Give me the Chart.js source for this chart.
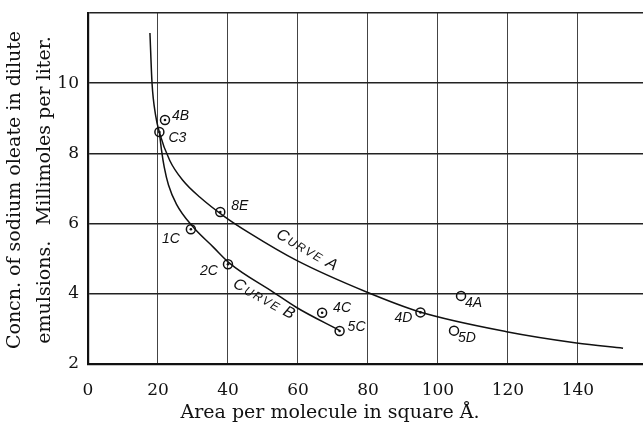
<!DOCTYPE html>
<html>
<head>
<meta charset="utf-8">
<script src="https://cdn.jsdelivr.net/npm/chart.js@4/dist/chart.umd.min.js"></script>
<style>
  html, body { margin: 0; padding: 0; background: #fff; }
  #wrap { width: 643px; height: 424px; }
</style>
</head>
<body>
<div id="wrap"><canvas id="chart" width="643" height="424"></canvas></div>
<script>
"use strict";

// ── Data ───────────────────────────────────────────────────────────────────
const xTickStep = 20;
const yTickStep = 2;

const pointNames  = ["4B", "C3", "8E", "1C", "2C", "4C", "5C", "4D", "4A", "5D"];
const pointX      = [22.0, 20.4, 37.8, 29.4, 40.0, 66.9, 71.9, 95.0, 106.6, 104.6];
const pointY      = [8.95, 8.61, 6.33, 5.84, 4.84, 3.46, 2.94, 3.47, 3.94, 2.95];
const pointDotted = [true, true, true, true, true, true, true, true, false, false];

const curveAX = [17.7, 18.3, 19.3, 20.4, 23.4, 27.2, 32.0, 39.0, 46.3, 59.6, 79.6, 94.9, 119.6, 139.6, 152.9];
const curveAY = [11.43, 10.0, 9.1, 8.6, 7.79, 7.22, 6.75, 6.2, 5.72, 4.95, 4.05, 3.48, 2.92, 2.60, 2.45];

const curveBX = [20.4, 21.0, 21.8, 23.0, 25.3, 29.8, 35.8, 40.6, 52.9, 59.6, 71.8];
const curveBY = [8.6, 8.1, 7.6, 7.1, 6.55, 5.93, 5.33, 4.86, 4.05, 3.61, 2.96];

const curveLabels = ["CURVE A", "CURVE B"];
const curveLabelX = [62.8, 50.5];
const curveLabelY = [5.25, 3.85];

const xTitle = "Area per molecule in square \u00C5.";
const yTitle = ["Concn. of sodium oleate in dilute", "emulsions.\u2002 Millimoles per liter."];

// ── Styling ────────────────────────────────────────────────────────────────
const INK = "#111";
const SERIF = "'DejaVu Serif', serif";
const HAND = "'Liberation Sans', sans-serif";
// [dx, dy, align] of each point label, pixels from the marker
const LABEL_OFFSETS = [
  [7, -4, "left"], [9, 6, "left"], [11, -6, "left"], [-11, 10, "right"], [-10, 7, "right"],
  [11, -5, "left"], [8, -4, "left"], [-8, 6, "right"], [4, 7, "left"], [4, 7, "left"],
];
const CURVE_ANGLE = [30, 29];

const zip = (xs, ys) => xs.map((x, i) => ({ x, y: ys[i] }));

function drawSmallCaps(ctx, text, cx, cy, deg) {
  const parts = text.split("").map((ch, i) => ({
    ch, font: `italic ${i === 0 || text[i - 1] === " " ? 16 : 12}px ${HAND}`,
  }));
  let w = 0;
  parts.forEach((p) => { ctx.font = p.font; p.w = ctx.measureText(p.ch).width + 1.5; w += p.w; });
  ctx.save();
  ctx.translate(cx, cy);
  ctx.rotate((deg * Math.PI) / 180);
  ctx.textAlign = "left";
  ctx.textBaseline = "alphabetic";
  let px = -w / 2;
  parts.forEach((p) => { ctx.font = p.font; ctx.fillText(p.ch, px, 5); px += p.w; });
  ctx.restore();
}

const annotations = {
  id: "annotations",
  afterDatasetsDraw(chart) {
    const { ctx, scales: { x, y } } = chart;
    ctx.save();
    ctx.fillStyle = INK;

    ctx.font = `italic 14px ${HAND}`;
    pointNames.forEach((name, i) => {
      const [dx, dy, align] = LABEL_OFFSETS[i];
      ctx.textAlign = align;
      ctx.textBaseline = "middle";
      ctx.fillText(name, x.getPixelForValue(pointX[i]) + dx, y.getPixelForValue(pointY[i]) + dy);
    });

    curveLabels.forEach((t, i) => {
      drawSmallCaps(ctx, t, x.getPixelForValue(curveLabelX[i]), y.getPixelForValue(curveLabelY[i]), CURVE_ANGLE[i]);
    });

    // axis titles
    ctx.font = `19px ${SERIF}`;
    ctx.textAlign = "center";
    ctx.textBaseline = "middle";
    ctx.fillText(xTitle, 330, 413);
    ctx.save();
    ctx.translate(0, 190);
    ctx.rotate(-Math.PI / 2);
    ctx.fillText(yTitle[0], 0, 15);
    ctx.fillText(yTitle[1], 0, 45);
    ctx.restore();

    ctx.restore();
  },
};

const lineDs = (xs, ys) => ({
  type: "scatter",
  data: zip(xs, ys),
  showLine: true,
  borderColor: INK,
  borderWidth: 1.5,
  pointRadius: 0,
  cubicInterpolationMode: "monotone",
  fill: false,
});

new Chart(document.getElementById("chart"), {
  type: "scatter",
  data: {
    datasets: [
      lineDs(curveAX, curveAY),
      lineDs(curveBX, curveBY),
      {
        data: zip(pointX, pointY),
        pointStyle: "circle",
        pointRadius: 4.5,
        pointBorderWidth: 1.5,
        pointBorderColor: INK,
        pointBackgroundColor: "rgba(255,255,255,0)",
      },
      {
        data: zip(pointX, pointY).filter((_, i) => pointDotted[i]),
        pointRadius: 1.3,
        pointBorderWidth: 0,
        pointBackgroundColor: INK,
      },
    ],
  },
  options: {
    responsive: false,
    animation: false,
    layout: { autoPadding: false, padding: { top: 13, right: 0, left: 0, bottom: 0 } },
    plugins: { legend: { display: false }, tooltip: { enabled: false } },
    scales: {
      x: {
        type: "linear",
        min: 0,
        max: 158.6,
        afterFit: (s) => { s.height = 60; s.paddingLeft = 0; s.paddingRight = 0; },
        ticks: { stepSize: xTickStep, includeBounds: false, padding: 16, color: INK, font: { family: SERIF, size: 17 } },
        grid: { color: "#444", lineWidth: 1, drawTicks: false },
        border: { color: INK, width: 2.2 },
      },
      y: {
        min: 2,
        max: 12,
        afterFit: (s) => { s.width = 88; s.paddingTop = 0; s.paddingBottom = 0; },
        ticks: {
          stepSize: yTickStep, padding: 9, color: INK, font: { family: SERIF, size: 17 },
          callback: (v) => (v >= 12 ? "" : v),
        },
        grid: { color: "#222", lineWidth: 1.6, drawTicks: false },
        border: { color: INK, width: 2.2 },
      },
    },
  },
  plugins: [annotations],
});
</script>
</body>
</html>
